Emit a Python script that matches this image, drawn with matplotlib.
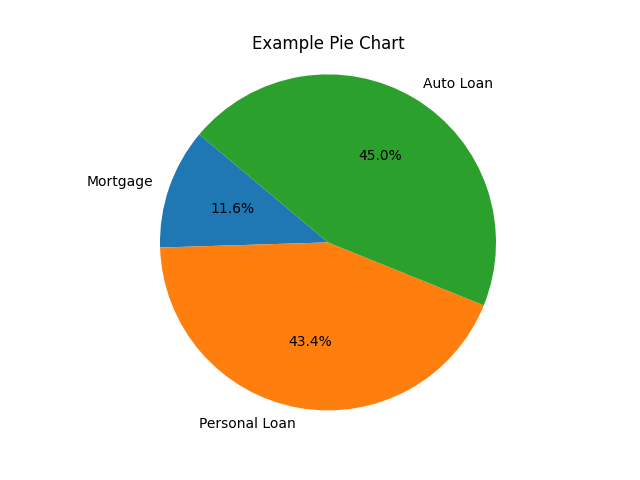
import matplotlib
matplotlib.use("Agg")
import matplotlib.pyplot as plt

labels = ["Mortgage", "Personal Loan", "Auto Loan"]
shares = [11.6, 43.4, 45.0]

fig = plt.figure(figsize=(6.4, 4.8), dpi=100)
plt.pie(shares, labels=labels, autopct="%1.1f%%", startangle=140)
plt.axis("equal")
plt.title("Example Pie Chart")
plt.savefig("out.png")
